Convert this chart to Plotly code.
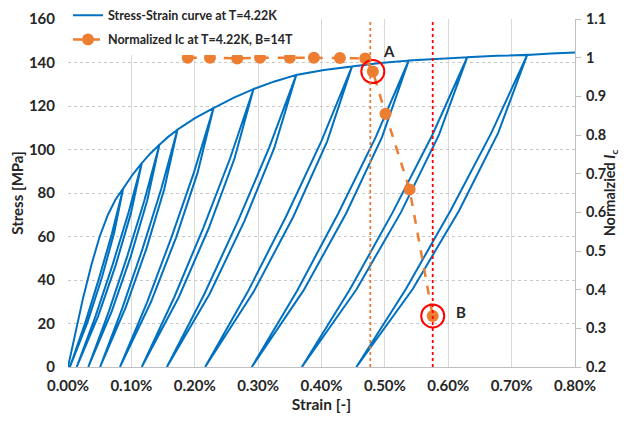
import plotly.graph_objects as go

# ---------------- data (strain in %, stress in MPa) ----------------
env_strain = [0, 0.012, 0.024, 0.037, 0.05, 0.063, 0.075, 0.087, 0.102, 0.1164, 0.130, 0.1442,
              0.158, 0.1727, 0.201, 0.2295, 0.261, 0.2927, 0.326, 0.3602, 0.404, 0.4482,
              0.493, 0.5376, 0.584, 0.6299, 0.677, 0.7246, 0.762, 0.8]
env_stress = [0, 16, 32, 47, 60, 70, 77, 82, 88.5, 93.7, 98.2, 102.2,
              105.8, 109.1, 114.5, 119.0, 123.7, 127.8, 131.3, 134.3, 136.6, 138.2,
              139.8, 140.9, 141.8, 142.4, 143.1, 143.5, 144.1, 144.6]

# unload/reload loops: peak on the envelope, residual strain at zero stress,
# and the strain read at 75 %, 50 %, 25 % of the peak stress on each branch
loop_peak_strain = [0.087, 0.1164, 0.1442, 0.1727, 0.2295, 0.2927, 0.3602, 0.4482, 0.5376, 0.6299, 0.7246]
loop_peak_stress = [82, 93.7, 102.2, 109.1, 119.0, 127.8, 134.3, 138.2, 140.9, 142.4, 143.5]
loop_residual = [0.003, 0.0137, 0.032, 0.0506, 0.082, 0.1164, 0.156, 0.2164, 0.290, 0.369, 0.455]
unload_75 = [0.0727, 0.0989, 0.1251, 0.1519, 0.2044, 0.2627, 0.3255, 0.4088, 0.4955, 0.5855, 0.6788]
unload_50 = [0.0534, 0.0753, 0.0993, 0.1239, 0.1705, 0.2222, 0.2785, 0.3555, 0.4386, 0.5255, 0.6168]
unload_25 = [0.0307, 0.0476, 0.0690, 0.0909, 0.1307, 0.1746, 0.2234, 0.2929, 0.3717, 0.4551, 0.5440]
reload_25 = [0.0274, 0.0435, 0.0645, 0.0860, 0.1248, 0.1675, 0.2152, 0.2836, 0.3618, 0.4447, 0.5332]
reload_50 = [0.0492, 0.0702, 0.0937, 0.1178, 0.1631, 0.2134, 0.2683, 0.3439, 0.4262, 0.5125, 0.6033]
reload_75 = [0.0694, 0.0948, 0.1206, 0.1471, 0.1985, 0.2557, 0.3173, 0.3995, 0.4856, 0.5751, 0.6680]

ic_strain = [0.189, 0.224, 0.267, 0.303, 0.350, 0.388, 0.429, 0.469, 0.481, 0.501, 0.539, 0.5755]
ic_value = [1.0, 1.0, 0.998, 1.0, 1.0, 1.0, 0.999, 0.998, 0.964, 0.855, 0.659, 0.332]

marked_strain = [0.481, 0.5755]
marked_value = [0.964, 0.332]
marked_labels = ["A", "B"]
label_strain = [0.506, 0.620]
label_value = [1.018, 0.341]
guide_strain = [0.477, 0.5755]
guide_colors = ["#E07B39", "#FF0000"]

x_ticks = [0, 0.1, 0.2, 0.3, 0.4, 0.5, 0.6, 0.7, 0.8]
x_tick_text = ["0.00%", "0.10%", "0.20%", "0.30%", "0.40%", "0.50%", "0.60%", "0.70%", "0.80%"]
y2_ticks = [0.2, 0.3, 0.4, 0.5, 0.6, 0.7, 0.8, 0.9, 1.0, 1.1]
y2_tick_text = ["0.2", "0.3", "0.4", "0.5", "0.6", "0.7", "0.8", "0.9", "1", "1.1"]

# ---------------- build the stress-strain path ----------------
xs, ys = [], []
for sx, sy in zip(env_strain, env_stress):
    xs.append(sx)
    ys.append(sy)
    if sx in loop_peak_strain:
        k = loop_peak_strain.index(sx)
        S = loop_peak_stress[k]
        xs += [unload_75[k], unload_50[k], unload_25[k], loop_residual[k],
               reload_25[k], reload_50[k], reload_75[k], sx]
        ys += [0.75 * S, 0.5 * S, 0.25 * S, 0,
               0.25 * S, 0.5 * S, 0.75 * S, S]

FONT = "Lato"
BLUE = "#0070C0"
ORANGE = "#ED7D31"
TXT = "#262626"

fig = go.Figure()
fig.add_trace(go.Scatter(x=xs, y=ys, mode="lines", name="Stress-Strain curve at T=4.22K",
                         line=dict(color=BLUE, width=2), legendgroup="a"))
fig.add_trace(go.Scatter(x=ic_strain, y=ic_value, yaxis="y2", mode="lines+markers",
                         name="Normalized Ic at T=4.22K, B=14T",
                         line=dict(color=ORANGE, width=2.5, dash="dash"),
                         marker=dict(color=ORANGE, size=12), legendgroup="b"))
fig.add_trace(go.Scatter(x=marked_strain, y=marked_value, yaxis="y2", mode="markers",
                         showlegend=False,
                         marker=dict(symbol="circle-open", size=23, color="#FF0000",
                                     line=dict(width=2, color="#FF0000"))))

for gx, gc in zip(guide_strain, guide_colors):
    fig.add_shape(type="line", x0=gx, x1=gx, y0=0, y1=1, xref="x", yref="paper",
                  line=dict(color=gc, width=1.8, dash="dot"))

for lx, ly, lt in zip(label_strain, label_value, marked_labels):
    fig.add_annotation(x=lx, y=ly, xref="x", yref="y2", text="<b>%s</b>" % lt,
                       showarrow=False, font=dict(family=FONT, size=15, color=TXT))

fig.update_layout(
    width=612, height=410,
    margin=dict(l=60, r=45, t=11, b=51, autoexpand=False),
    paper_bgcolor="white", plot_bgcolor="white",
    font=dict(family=FONT, color=TXT),
    showlegend=True,
    legend=dict(x=0.0, y=1.053, xanchor="left", yanchor="top",
                bgcolor="white", borderwidth=0, tracegroupgap=5,
                traceorder="grouped",
                font=dict(family=FONT, size=12.5, color=TXT, weight="bold")),
    xaxis=dict(range=[0, 0.8], tickvals=x_ticks, ticktext=x_tick_text,
               showgrid=True, gridcolor="#D9D9D9", gridwidth=1,
               showline=True, linecolor="#BFBFBF", linewidth=1,
               ticks="", ticklabelstandoff=5, zeroline=False, automargin=False,
               tickfont=dict(family=FONT, size=15, weight="bold"),
               title=dict(text="<b>Strain [-]</b>", font=dict(family=FONT, size=15.5), standoff=6)),
    yaxis=dict(range=[0, 160], dtick=20, showgrid=True, gridcolor="#C8C8C8",
               griddash="dot", gridwidth=1, zeroline=False, showline=False,
               ticks="", ticklabelstandoff=12, automargin=False,
               tickfont=dict(family=FONT, size=15, weight="bold"),
               title=dict(text="<b>Stress [MPa]</b>", font=dict(family=FONT, size=15), standoff=4)),
    yaxis2=dict(range=[0.2, 1.1], tickvals=y2_ticks, ticktext=y2_tick_text,
                overlaying="y", side="right", automargin=False,
                showgrid=False, zeroline=False, showline=True, linecolor="#BFBFBF",
                ticks="outside", ticklen=5, tickcolor="#BFBFBF", ticklabelstandoff=2,
                tickfont=dict(family=FONT, size=14.5, weight="bold"),
                title=dict(text="<b>Normalzied <i>I</i><sub>c</sub></b>",
                           font=dict(family=FONT, size=14.5), standoff=2)),
)

fig.write_html("out.html")
